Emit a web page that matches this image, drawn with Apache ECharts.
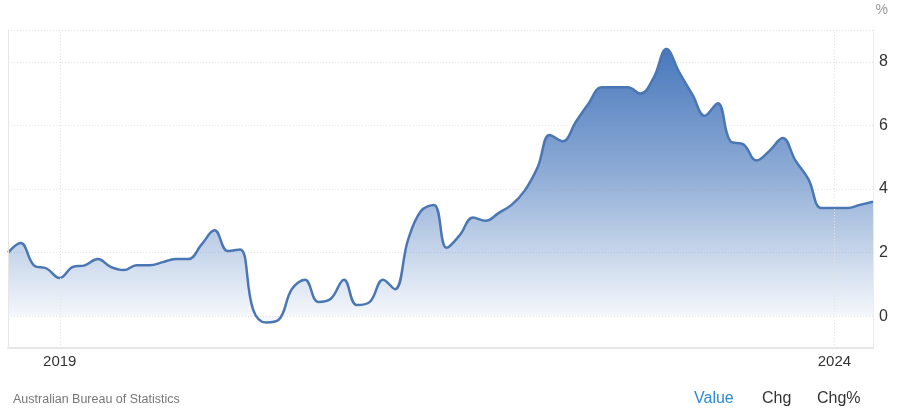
<!DOCTYPE html>
<html>
<head>
<meta charset="utf-8">
<script src="https://cdn.jsdelivr.net/npm/echarts@6/dist/echarts.min.js"></script>
<style>
    html, body { margin: 0; padding: 0; background: #fff; }
    #chart { width: 900px; height: 411px; }
</style>
</head>
<body>
<div id="chart"></div>
<script>
// monthly dates (first of month)
let months = [
    '2018-09-01', '2018-10-01', '2018-11-01', '2018-12-01',
    '2019-01-01', '2019-02-01', '2019-03-01', '2019-04-01', '2019-05-01', '2019-06-01',
    '2019-07-01', '2019-08-01', '2019-09-01', '2019-10-01', '2019-11-01', '2019-12-01',
    '2020-01-01', '2020-02-01', '2020-03-01', '2020-04-01', '2020-05-01', '2020-06-01',
    '2020-07-01', '2020-08-01', '2020-09-01', '2020-10-01', '2020-11-01', '2020-12-01',
    '2021-01-01', '2021-02-01', '2021-03-01', '2021-04-01', '2021-05-01', '2021-06-01',
    '2021-07-01', '2021-08-01', '2021-09-01', '2021-10-01', '2021-11-01', '2021-12-01',
    '2022-01-01', '2022-02-01', '2022-03-01', '2022-04-01', '2022-05-01', '2022-06-01',
    '2022-07-01', '2022-08-01', '2022-09-01', '2022-10-01', '2022-11-01', '2022-12-01',
    '2023-01-01', '2023-02-01', '2023-03-01', '2023-04-01', '2023-05-01', '2023-06-01',
    '2023-07-01', '2023-08-01', '2023-09-01', '2023-10-01', '2023-11-01', '2023-12-01',
    '2024-01-01', '2024-02-01', '2024-03-01', '2024-04-01'
];

// annual inflation, %
let values = [
    2.0, 2.3, 1.6, 1.5,
    1.2, 1.55, 1.6, 1.8, 1.55, 1.45, 1.6, 1.6, 1.7, 1.8, 1.8, 2.25,
    2.7, 2.05, 2.1, 0.2, -0.2, -0.1, 0.85, 1.15, 0.45, 0.55, 1.15, 0.35,
    0.45, 1.15, 0.85, 2.4, 3.3, 3.5, 2.15, 2.55, 3.1, 3.0, 3.25, 3.5,
    3.95, 4.7, 5.7, 5.5, 6.1, 6.7, 7.2, 7.2, 7.2, 7.0, 7.5, 8.4,
    7.65, 6.95, 6.3, 6.7, 5.5, 5.4, 4.9, 5.2, 5.6, 4.9, 4.3, 3.4,
    3.4, 3.4, 3.5, 3.6
];

let xLabels = ['2019', '2024'];
let yTicks = [0, 2, 4, 6, 8];

let source = 'Australian Bureau of Statistics';
let tabs = ['Value', 'Chg', 'Chg%'];

let chart = echarts.init(document.getElementById('chart'));

let gridDash = { color: '#e3e3e3', width: 1, type: [1, 2] };

let option = {
    animation: false,
    grid: { left: 8, right: 27, top: 30, bottom: 63 },
    xAxis: {
        type: 'time',
        min: months[0],
        max: months[months.length - 1],
        axisLine: { show: true, onZero: false, lineStyle: { color: '#e6e6e6', width: 2 } },
        axisTick: { show: false },
        splitLine: { show: false },
        axisLabel: {
            color: '#333',
            fontSize: 15,
            fontFamily: 'Liberation Sans, Arial, sans-serif',
            margin: 6,
            hideOverlap: false,
            formatter: function (val) {
                let d = new Date(val);
                let y = String(d.getFullYear());
                if (d.getMonth() === 0 && d.getDate() === 1 && xLabels.indexOf(y) >= 0) {
                    return y;
                }
                return '';
            }
        }
    },
    yAxis: {
        type: 'value',
        position: 'right',
        min: -1,
        max: 9,
        splitNumber: 5,
        axisLine: { show: true, lineStyle: { color: '#ececec', width: 1 } },
        axisTick: { show: false },
        splitLine: { show: true, lineStyle: gridDash },
        axisLabel: {
            color: '#333',
            fontSize: 16,
            fontFamily: 'Liberation Sans, Arial, sans-serif',
            margin: 6,
            showMinLabel: false,
            showMaxLabel: false,
            formatter: function (v) {
                return yTicks.indexOf(v) >= 0 ? String(v) : '';
            }
        }
    },
    series: [{
        type: 'line',
        data: months.map((m, i) => [m, values[i]]),
        smooth: 0.4,
        showSymbol: false,
        lineStyle: { color: '#4a76b3', width: 2.5 },
        areaStyle: {
            opacity: 1,
            color: new echarts.graphic.LinearGradient(0, 0, 0, 1, [
                { offset: 0, color: 'rgba(72,120,188,1)' },
                { offset: 0.45, color: 'rgba(72,120,188,0.62)' },
                { offset: 1, color: 'rgba(72,120,188,0.03)' }
            ])
        },
        markLine: {
            silent: true,
            symbol: 'none',
            label: { show: false },
            data: xLabels.map(y => ({ xAxis: y + '-01-01', lineStyle: gridDash })).concat([{
                xAxis: months[0],
                lineStyle: { color: '#e6e6e6', width: 1, type: 'solid' }
            }])
        }
    }],
    graphic: [
        {
            type: 'text', right: 12, top: 3,
            style: { text: '%', fill: '#999', font: '14px Liberation Sans, Arial, sans-serif' }
        },
        {
            type: 'text', left: 13, top: 393,
            style: { text: source, fill: '#777', font: '12.5px Liberation Sans Narrow, Liberation Sans, Arial, sans-serif' }
        },
        {
            type: 'text', left: 694, top: 391,
            style: { text: tabs[0], fill: '#2b8ad6', font: '16px Liberation Sans, Arial, sans-serif' }
        },
        {
            type: 'text', left: 762, top: 391,
            style: { text: tabs[1], fill: '#333', font: '16px Liberation Sans, Arial, sans-serif' }
        },
        {
            type: 'text', left: 817, top: 391,
            style: { text: tabs[2], fill: '#333', font: '16px Liberation Sans, Arial, sans-serif' }
        }
    ]
};

chart.setOption(option);
</script>
</body>
</html>
